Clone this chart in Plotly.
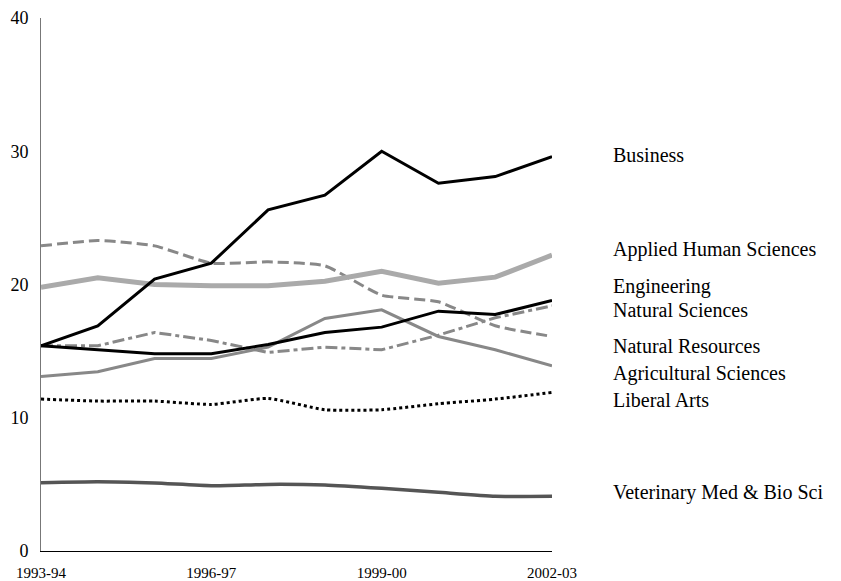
import plotly.graph_objects as go

years = ["1993-94", "1994-95", "1995-96", "1996-97", "1997-98",
         "1998-99", "1999-00", "2000-01", "2001-02", "2002-03"]
tick_years = ["1993-94", "1996-97", "1999-00", "2002-03"]

business = [15.4, 16.9, 20.4, 21.6, 25.6, 26.7, 30.0, 27.6, 28.1, 29.6]
applied_human = [19.8, 20.5, 20.0, 19.9, 19.9, 20.25, 21.0, 20.1, 20.55, 22.2]
natural_resources = [22.9, 23.3, 22.9, 21.6, 21.7, 21.4, 19.2, 18.7, 16.9, 16.1]
engineering = [15.4, 15.1, 14.8, 14.8, 15.5, 16.4, 16.8, 18.0, 17.75, 18.8]
natural_sciences = [15.4, 15.4, 16.4, 15.8, 14.9, 15.3, 15.1, 16.2, 17.5, 18.4]
agricultural = [13.1, 13.45, 14.45, 14.45, 15.3, 17.45, 18.1, 16.1, 15.1, 13.9]
liberal_arts = [11.4, 11.25, 11.25, 11.0, 11.45, 10.6, 10.6, 11.05, 11.4, 11.9]
vet_med = [5.13, 5.2, 5.1, 4.9, 5.0, 4.95, 4.7, 4.4, 4.1, 4.1]

label_names = ["Business", "Applied Human Sciences", "Engineering", "Natural Sciences",
               "Natural Resources", "Agricultural Sciences", "Liberal Arts",
               "Veterinary Med & Bio Sci"]
label_y = [29.75, 22.6, 19.85, 18.1, 15.35, 13.3, 11.3, 4.4]

xs = list(range(len(years)))
tickvals = [years.index(t) for t in tick_years]

series = [
    (vet_med, "#555555", 3.5, "solid", "spline"),
    (liberal_arts, "#000000", 3, "3px,3px", "spline"),
    (agricultural, "#888888", 3, "solid", "linear"),
    (natural_sciences, "#888888", 3, "12px,4px,4px,4px", "linear"),
    (natural_resources, "#888888", 3, "11px,5px", "spline"),
    (engineering, "#000000", 3, "solid", "linear"),
    (applied_human, "#aaaaaa", 5, "solid", "linear"),
    (business, "#000000", 3, "solid", "linear"),
]

fig = go.Figure()
for vals, color, w, dash, shape in series:
    line = dict(color=color, width=w, dash=dash, shape=shape)
    if shape == "spline":
        line["smoothing"] = 0.5
    fig.add_trace(go.Scatter(x=xs, y=vals, mode="lines", line=line,
                             showlegend=False, hoverinfo="skip"))

font_family = "Liberation Serif, Palatino Linotype, Book Antiqua, Palatino, serif"

for name, yv in zip(label_names, label_y):
    fig.add_annotation(x=1.1194, xref="paper", y=yv, yref="y", text=name,
                       showarrow=False, xanchor="left", yanchor="middle",
                       xshift=-2,
                       font=dict(family=font_family, size=20, color="#000"))

fig.update_layout(
    width=841, height=581,
    margin=dict(l=33, r=297, t=10, b=38, autoexpand=False),
    paper_bgcolor="white", plot_bgcolor="white",
    font=dict(family=font_family, size=15, color="#000"),
    xaxis=dict(range=[0, 9], tickvals=tickvals, ticktext=tick_years,
               showgrid=False, zeroline=False, showline=True,
               linecolor="#000", linewidth=1, ticks="",
               automargin=False, ticklabelstandoff=8,
               tickfont=dict(size=15)),
    yaxis=dict(range=[0, 40], tickvals=[0, 10, 20, 30, 40],
               showgrid=False, zeroline=False, showline=True,
               linecolor="#777", linewidth=1, ticks="",
               automargin=False, ticklabelstandoff=8,
               tickfont=dict(size=18)),
)

fig.write_html("out.html")
